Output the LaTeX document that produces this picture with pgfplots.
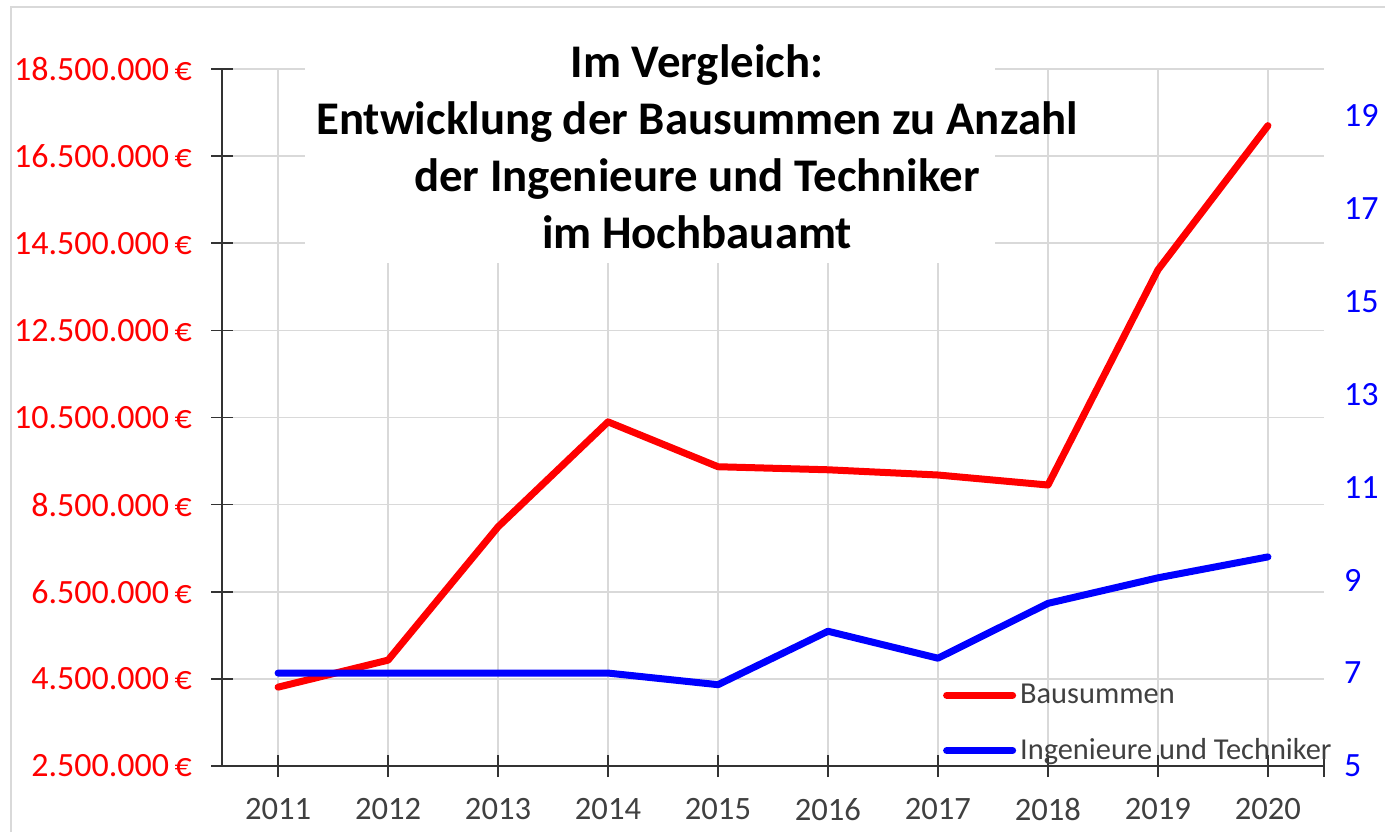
\documentclass[border=0pt]{standalone}
\usepackage{fontspec}
\setmainfont{Carlito}
\usepackage{pgfplots}
\pgfplotsset{compat=1.18}
\definecolor{xlred}{HTML}{FF0000}
\definecolor{xlblue}{HTML}{0000FF}
\definecolor{xlgrid}{HTML}{D9D9D9}
\definecolor{xltext}{HTML}{404040}

\begin{document}
\begin{tikzpicture}
\useasboundingbox (0,0) rectangle (692.5pt,416pt);
% chart frame
\draw[xlgrid,line width=1pt] (5.5pt,0) -- (5.5pt,412.5pt) -- (692.5pt,412.5pt);

\begin{axis}[
    at={(111pt,33pt)}, anchor=south west,
    scale only axis, width=551pt, height=348.5pt,
    xmin=2010.49, xmax=2020.51,
    ymin=2500000, ymax=18500000,
    axis x line=bottom, axis y line=left,
    axis line style={-,black!80,line width=0.8pt},
    tick style={black!80,line width=0.8pt},
    tick align=center, major tick length=11pt,
    xtick={2011,...,2020},
    xticklabels={2011,2012,2013,2014,2015,2016,2017,2018,2019,2020},
    extra x ticks={2020.51}, extra x tick labels={},
    extra x tick style={grid=none},
    ytick={2500000,4500000,6500000,8500000,10500000,12500000,14500000,16500000,18500000},
    yticklabels={2.500.000\,€,4.500.000\,€,6.500.000\,€,8.500.000\,€,10.500.000\,€,12.500.000\,€,14.500.000\,€,16.500.000\,€,18.500.000\,€},
    scaled y ticks=false,
    grid=major, grid style={xlgrid,line width=0.8pt},
    xticklabel style={font=\fontsize{16.3}{19}\selectfont,text=xltext,yshift=-7pt},
    yticklabel style={font=\fontsize{17}{20}\selectfont,text=xlred,xshift=-6pt},
]
\addplot[xlred,line width=3.5pt,line join=round,line cap=round] coordinates {
 (2011,4310000) (2012,4930000) (2013,7990000) (2014,10400000) (2015,9370000)
 (2016,9300000) (2017,9180000) (2018,8950000) (2019,13890000) (2020,17200000)};
\end{axis}

\begin{axis}[
    at={(111pt,33pt)}, anchor=south west,
    scale only axis, width=551pt, height=348.5pt,
    xmin=2010.49, xmax=2020.51,
    ymin=5, ymax=20,
    axis x line=none, axis y line*=right,
    axis line style={draw=none},
    major tick length=0pt, ytick style={draw=none},
    ytick={5,7,9,11,13,15,17,19},
    yticklabels={5,7,9,11,13,15,17,19},
    yticklabel style={font=\fontsize{17}{20}\selectfont,text=xlblue,xshift=6.5pt},
    legend style={draw=none,fill=none,at={(0.654,0.124)},anchor=north west,
      font=\fontsize{15.2}{18}\selectfont,text=xltext,row sep=12pt,
      inner sep=0pt},
    legend cell align=left,
    legend image code/.code={\draw[#1,line cap=round] (0pt,0pt) -- (33pt,0pt);},
]
\addlegendimage{xlred,line width=3.5pt}
\addlegendentry{Bausummen}
\addplot[xlblue,line width=3.5pt,line join=round,line cap=round] coordinates {
 (2011,7) (2012,7) (2013,7) (2014,7) (2015,6.75)
 (2016,7.9) (2017,7.32) (2018,8.5) (2019,9.05) (2020,9.5)};
\addlegendentry{Ingenieure und Techniker}
\end{axis}

% title with white backing
\fill[white] (152.5pt,284.5pt) rectangle (497.5pt,405pt);
\node[align=center,font=\fontsize{23.4}{28.5}\selectfont\bfseries] at (348.5pt,342.5pt)
  {Im Vergleich:\\Entwicklung der Bausummen zu Anzahl\\der Ingenieure und Techniker\\im Hochbauamt};
\end{tikzpicture}
\end{document}
